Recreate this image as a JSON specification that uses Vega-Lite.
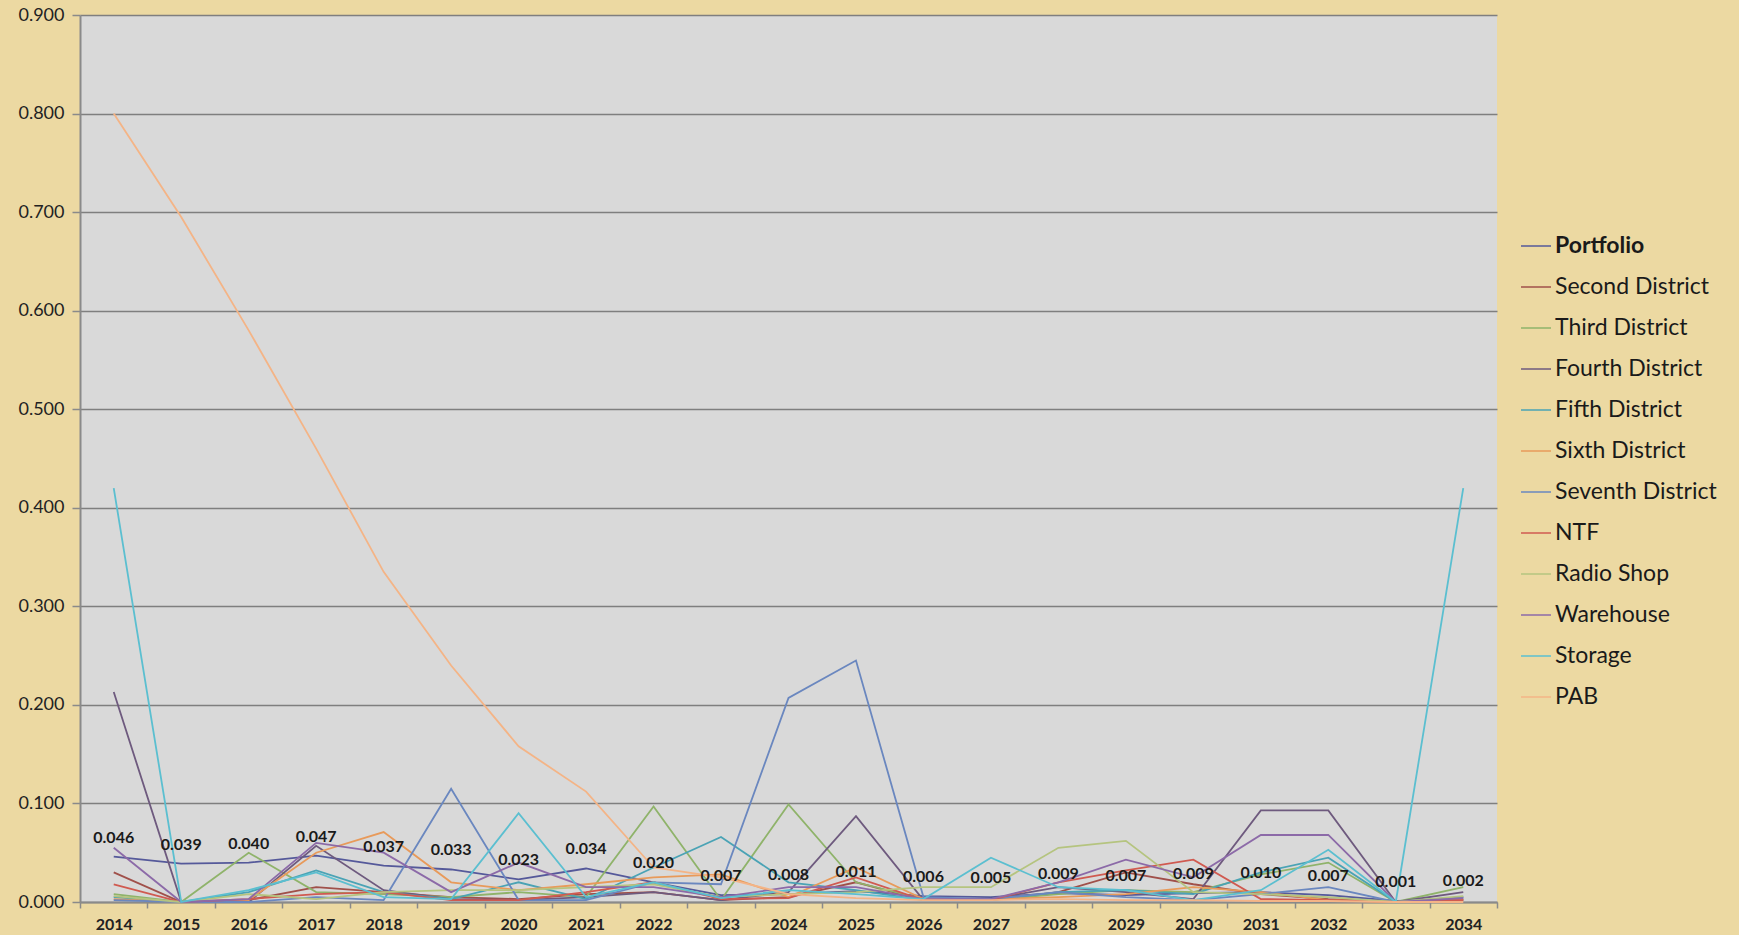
{
  "$schema": "https://vega.github.io/schema/vega-lite/v6.json",
  "width": 1417,
  "height": 887,
  "autosize": {"type": "none"},
  "padding": {"left": 80, "top": 15, "right": 242, "bottom": 33},
  "background": "#ecd9a2",
  "config": {"view": {"fill": "#d9d9d9", "stroke": null}, "font": "Lato"},
  "data": {"values": [
    {"year":2014,"series":"Portfolio","value":0.046},{"year":2015,"series":"Portfolio","value":0.039},{"year":2016,"series":"Portfolio","value":0.040},{"year":2017,"series":"Portfolio","value":0.047},{"year":2018,"series":"Portfolio","value":0.037},{"year":2019,"series":"Portfolio","value":0.033},{"year":2020,"series":"Portfolio","value":0.023},{"year":2021,"series":"Portfolio","value":0.034},{"year":2022,"series":"Portfolio","value":0.020},{"year":2023,"series":"Portfolio","value":0.007},{"year":2024,"series":"Portfolio","value":0.008},{"year":2025,"series":"Portfolio","value":0.011},{"year":2026,"series":"Portfolio","value":0.006},{"year":2027,"series":"Portfolio","value":0.005},{"year":2028,"series":"Portfolio","value":0.009},{"year":2029,"series":"Portfolio","value":0.007},{"year":2030,"series":"Portfolio","value":0.009},{"year":2031,"series":"Portfolio","value":0.010},{"year":2032,"series":"Portfolio","value":0.007},{"year":2033,"series":"Portfolio","value":0.001},{"year":2034,"series":"Portfolio","value":0.002},
    {"year":2014,"series":"Second District","value":0.030},{"year":2015,"series":"Second District","value":0.000},{"year":2016,"series":"Second District","value":0.002},{"year":2017,"series":"Second District","value":0.015},{"year":2018,"series":"Second District","value":0.010},{"year":2019,"series":"Second District","value":0.005},{"year":2020,"series":"Second District","value":0.003},{"year":2021,"series":"Second District","value":0.008},{"year":2022,"series":"Second District","value":0.010},{"year":2023,"series":"Second District","value":0.002},{"year":2024,"series":"Second District","value":0.005},{"year":2025,"series":"Second District","value":0.020},{"year":2026,"series":"Second District","value":0.002},{"year":2027,"series":"Second District","value":0.002},{"year":2028,"series":"Second District","value":0.010},{"year":2029,"series":"Second District","value":0.030},{"year":2030,"series":"Second District","value":0.018},{"year":2031,"series":"Second District","value":0.008},{"year":2032,"series":"Second District","value":0.003},{"year":2033,"series":"Second District","value":0.000},{"year":2034,"series":"Second District","value":0.003},
    {"year":2014,"series":"Third District","value":0.008},{"year":2015,"series":"Third District","value":0.000},{"year":2016,"series":"Third District","value":0.050},{"year":2017,"series":"Third District","value":0.010},{"year":2018,"series":"Third District","value":0.008},{"year":2019,"series":"Third District","value":0.005},{"year":2020,"series":"Third District","value":0.010},{"year":2021,"series":"Third District","value":0.005},{"year":2022,"series":"Third District","value":0.097},{"year":2023,"series":"Third District","value":0.002},{"year":2024,"series":"Third District","value":0.099},{"year":2025,"series":"Third District","value":0.020},{"year":2026,"series":"Third District","value":0.003},{"year":2027,"series":"Third District","value":0.002},{"year":2028,"series":"Third District","value":0.008},{"year":2029,"series":"Third District","value":0.012},{"year":2030,"series":"Third District","value":0.010},{"year":2031,"series":"Third District","value":0.028},{"year":2032,"series":"Third District","value":0.040},{"year":2033,"series":"Third District","value":0.000},{"year":2034,"series":"Third District","value":0.015},
    {"year":2014,"series":"Fourth District","value":0.213},{"year":2015,"series":"Fourth District","value":0.000},{"year":2016,"series":"Fourth District","value":0.000},{"year":2017,"series":"Fourth District","value":0.057},{"year":2018,"series":"Fourth District","value":0.012},{"year":2019,"series":"Fourth District","value":0.003},{"year":2020,"series":"Fourth District","value":0.002},{"year":2021,"series":"Fourth District","value":0.005},{"year":2022,"series":"Fourth District","value":0.010},{"year":2023,"series":"Fourth District","value":0.002},{"year":2024,"series":"Fourth District","value":0.010},{"year":2025,"series":"Fourth District","value":0.087},{"year":2026,"series":"Fourth District","value":0.002},{"year":2027,"series":"Fourth District","value":0.003},{"year":2028,"series":"Fourth District","value":0.015},{"year":2029,"series":"Fourth District","value":0.010},{"year":2030,"series":"Fourth District","value":0.003},{"year":2031,"series":"Fourth District","value":0.093},{"year":2032,"series":"Fourth District","value":0.093},{"year":2033,"series":"Fourth District","value":0.000},{"year":2034,"series":"Fourth District","value":0.010},
    {"year":2014,"series":"Fifth District","value":0.005},{"year":2015,"series":"Fifth District","value":0.000},{"year":2016,"series":"Fifth District","value":0.010},{"year":2017,"series":"Fifth District","value":0.032},{"year":2018,"series":"Fifth District","value":0.010},{"year":2019,"series":"Fifth District","value":0.003},{"year":2020,"series":"Fifth District","value":0.020},{"year":2021,"series":"Fifth District","value":0.003},{"year":2022,"series":"Fifth District","value":0.035},{"year":2023,"series":"Fifth District","value":0.066},{"year":2024,"series":"Fifth District","value":0.020},{"year":2025,"series":"Fifth District","value":0.012},{"year":2026,"series":"Fifth District","value":0.002},{"year":2027,"series":"Fifth District","value":0.002},{"year":2028,"series":"Fifth District","value":0.010},{"year":2029,"series":"Fifth District","value":0.012},{"year":2030,"series":"Fifth District","value":0.008},{"year":2031,"series":"Fifth District","value":0.030},{"year":2032,"series":"Fifth District","value":0.045},{"year":2033,"series":"Fifth District","value":0.000},{"year":2034,"series":"Fifth District","value":0.005},
    {"year":2014,"series":"Sixth District","value":0.003},{"year":2015,"series":"Sixth District","value":0.000},{"year":2016,"series":"Sixth District","value":0.002},{"year":2017,"series":"Sixth District","value":0.050},{"year":2018,"series":"Sixth District","value":0.071},{"year":2019,"series":"Sixth District","value":0.020},{"year":2020,"series":"Sixth District","value":0.012},{"year":2021,"series":"Sixth District","value":0.018},{"year":2022,"series":"Sixth District","value":0.025},{"year":2023,"series":"Sixth District","value":0.028},{"year":2024,"series":"Sixth District","value":0.005},{"year":2025,"series":"Sixth District","value":0.035},{"year":2026,"series":"Sixth District","value":0.003},{"year":2027,"series":"Sixth District","value":0.003},{"year":2028,"series":"Sixth District","value":0.005},{"year":2029,"series":"Sixth District","value":0.008},{"year":2030,"series":"Sixth District","value":0.015},{"year":2031,"series":"Sixth District","value":0.010},{"year":2032,"series":"Sixth District","value":0.002},{"year":2033,"series":"Sixth District","value":0.000},{"year":2034,"series":"Sixth District","value":0.002},
    {"year":2014,"series":"Seventh District","value":0.002},{"year":2015,"series":"Seventh District","value":0.000},{"year":2016,"series":"Seventh District","value":0.000},{"year":2017,"series":"Seventh District","value":0.005},{"year":2018,"series":"Seventh District","value":0.002},{"year":2019,"series":"Seventh District","value":0.115},{"year":2020,"series":"Seventh District","value":0.002},{"year":2021,"series":"Seventh District","value":0.002},{"year":2022,"series":"Seventh District","value":0.020},{"year":2023,"series":"Seventh District","value":0.018},{"year":2024,"series":"Seventh District","value":0.207},{"year":2025,"series":"Seventh District","value":0.245},{"year":2026,"series":"Seventh District","value":0.005},{"year":2027,"series":"Seventh District","value":0.003},{"year":2028,"series":"Seventh District","value":0.010},{"year":2029,"series":"Seventh District","value":0.005},{"year":2030,"series":"Seventh District","value":0.002},{"year":2031,"series":"Seventh District","value":0.008},{"year":2032,"series":"Seventh District","value":0.015},{"year":2033,"series":"Seventh District","value":0.000},{"year":2034,"series":"Seventh District","value":0.005},
    {"year":2014,"series":"NTF","value":0.018},{"year":2015,"series":"NTF","value":0.000},{"year":2016,"series":"NTF","value":0.003},{"year":2017,"series":"NTF","value":0.008},{"year":2018,"series":"NTF","value":0.010},{"year":2019,"series":"NTF","value":0.002},{"year":2020,"series":"NTF","value":0.002},{"year":2021,"series":"NTF","value":0.010},{"year":2022,"series":"NTF","value":0.020},{"year":2023,"series":"NTF","value":0.003},{"year":2024,"series":"NTF","value":0.004},{"year":2025,"series":"NTF","value":0.025},{"year":2026,"series":"NTF","value":0.002},{"year":2027,"series":"NTF","value":0.002},{"year":2028,"series":"NTF","value":0.020},{"year":2029,"series":"NTF","value":0.032},{"year":2030,"series":"NTF","value":0.043},{"year":2031,"series":"NTF","value":0.003},{"year":2032,"series":"NTF","value":0.002},{"year":2033,"series":"NTF","value":0.000},{"year":2034,"series":"NTF","value":0.002},
    {"year":2014,"series":"Radio Shop","value":0.006},{"year":2015,"series":"Radio Shop","value":0.000},{"year":2016,"series":"Radio Shop","value":0.008},{"year":2017,"series":"Radio Shop","value":0.003},{"year":2018,"series":"Radio Shop","value":0.010},{"year":2019,"series":"Radio Shop","value":0.012},{"year":2020,"series":"Radio Shop","value":0.012},{"year":2021,"series":"Radio Shop","value":0.015},{"year":2022,"series":"Radio Shop","value":0.018},{"year":2023,"series":"Radio Shop","value":0.005},{"year":2024,"series":"Radio Shop","value":0.008},{"year":2025,"series":"Radio Shop","value":0.010},{"year":2026,"series":"Radio Shop","value":0.015},{"year":2027,"series":"Radio Shop","value":0.015},{"year":2028,"series":"Radio Shop","value":0.055},{"year":2029,"series":"Radio Shop","value":0.062},{"year":2030,"series":"Radio Shop","value":0.010},{"year":2031,"series":"Radio Shop","value":0.008},{"year":2032,"series":"Radio Shop","value":0.005},{"year":2033,"series":"Radio Shop","value":0.000},{"year":2034,"series":"Radio Shop","value":0.006},
    {"year":2014,"series":"Warehouse","value":0.055},{"year":2015,"series":"Warehouse","value":0.000},{"year":2016,"series":"Warehouse","value":0.003},{"year":2017,"series":"Warehouse","value":0.060},{"year":2018,"series":"Warehouse","value":0.050},{"year":2019,"series":"Warehouse","value":0.010},{"year":2020,"series":"Warehouse","value":0.040},{"year":2021,"series":"Warehouse","value":0.015},{"year":2022,"series":"Warehouse","value":0.015},{"year":2023,"series":"Warehouse","value":0.005},{"year":2024,"series":"Warehouse","value":0.015},{"year":2025,"series":"Warehouse","value":0.015},{"year":2026,"series":"Warehouse","value":0.003},{"year":2027,"series":"Warehouse","value":0.003},{"year":2028,"series":"Warehouse","value":0.020},{"year":2029,"series":"Warehouse","value":0.043},{"year":2030,"series":"Warehouse","value":0.025},{"year":2031,"series":"Warehouse","value":0.068},{"year":2032,"series":"Warehouse","value":0.068},{"year":2033,"series":"Warehouse","value":0.000},{"year":2034,"series":"Warehouse","value":0.004},
    {"year":2014,"series":"Storage","value":0.420},{"year":2015,"series":"Storage","value":0.000},{"year":2016,"series":"Storage","value":0.012},{"year":2017,"series":"Storage","value":0.030},{"year":2018,"series":"Storage","value":0.005},{"year":2019,"series":"Storage","value":0.003},{"year":2020,"series":"Storage","value":0.090},{"year":2021,"series":"Storage","value":0.005},{"year":2022,"series":"Storage","value":0.020},{"year":2023,"series":"Storage","value":0.004},{"year":2024,"series":"Storage","value":0.012},{"year":2025,"series":"Storage","value":0.008},{"year":2026,"series":"Storage","value":0.003},{"year":2027,"series":"Storage","value":0.045},{"year":2028,"series":"Storage","value":0.015},{"year":2029,"series":"Storage","value":0.012},{"year":2030,"series":"Storage","value":0.002},{"year":2031,"series":"Storage","value":0.012},{"year":2032,"series":"Storage","value":0.053},{"year":2033,"series":"Storage","value":0.000},{"year":2034,"series":"Storage","value":0.420},
    {"year":2014,"series":"PAB","value":0.800},{"year":2015,"series":"PAB","value":0.695},{"year":2016,"series":"PAB","value":0.580},{"year":2017,"series":"PAB","value":0.460},{"year":2018,"series":"PAB","value":0.335},{"year":2019,"series":"PAB","value":0.240},{"year":2020,"series":"PAB","value":0.158},{"year":2021,"series":"PAB","value":0.112},{"year":2022,"series":"PAB","value":0.035},{"year":2023,"series":"PAB","value":0.025},{"year":2024,"series":"PAB","value":0.008},{"year":2025,"series":"PAB","value":0.004},{"year":2026,"series":"PAB","value":0.002},{"year":2027,"series":"PAB","value":0.002},{"year":2028,"series":"PAB","value":0.003},{"year":2029,"series":"PAB","value":0.002},{"year":2030,"series":"PAB","value":0.002},{"year":2031,"series":"PAB","value":0.001},{"year":2032,"series":"PAB","value":0.001},{"year":2033,"series":"PAB","value":0.000},{"year":2034,"series":"PAB","value":0.000}
  ]},
  "encoding": {
    "x": {
      "field": "year", "type": "ordinal", "bandPosition": 0.5,
      "scale": {"type": "band", "paddingInner": 0, "paddingOuter": 0},
      "axis": {"title": null, "labelAngle": 0, "labelFontSize": 16, "labelFontWeight": "bold", "labelColor": "#222222", "tickBand": "extent", "tickSize": 6, "tickColor": "#8a8a8a", "tickWidth": 1.5, "domainColor": "#8a8a8a", "domainWidth": 2, "labelPadding": 8, "grid": false}
    },
    "y": {
      "field": "value", "type": "quantitative",
      "scale": {"domain": [0, 0.9], "nice": false, "zero": true},
      "axis": {"title": null, "values": [0, 0.1, 0.2, 0.3, 0.4, 0.5, 0.6, 0.7, 0.8, 0.9], "format": ".3f", "labelFontSize": 18, "labelColor": "#222222", "grid": true, "gridColor": "#7f7f7f", "gridWidth": 1.5, "domainColor": "#8a8a8a", "domainWidth": 2, "tickColor": "#8a8a8a", "tickSize": 8, "tickWidth": 1.5, "labelPadding": 8}
    }
  },
  "layer": [
    {
      "mark": {"type": "line", "strokeWidth": 1.8},
      "encoding": {
        "color": {
          "field": "series", "type": "nominal",
          "scale": {
            "domain": ["Portfolio", "Second District", "Third District", "Fourth District", "Fifth District", "Sixth District", "Seventh District", "NTF", "Radio Shop", "Warehouse", "Storage", "PAB"],
            "range": ["#55599a", "#a0504a", "#8fb36a", "#6e5a7e", "#4aa3b5", "#e89a5a", "#6a87bf", "#d05a50", "#b5c47f", "#8c6aa8", "#5bbfd0", "#f4b486"]
          },
          "legend": {
            "orient": "none", "legendX": 1440, "legendY": 215, "title": null,
            "symbolType": "stroke", "symbolSize": 900, "symbolStrokeWidth": 1.5,
            "labelFontSize": 23, "labelColor": "#1a1a1a", "labelFont": "Lato",
            "rowPadding": 13, "labelOffset": 3, "padding": 0, "labelLimit": 300,
            "encode": {"labels": {"update": {"fontWeight": {"signal": "datum.value === 'Portfolio' ? 'bold' : 'normal'"}}}}
          }
        },
        "order": {"field": "year", "type": "ordinal"}
      }
    },
    {
      "transform": [{"filter": "datum.series === 'Portfolio'"}],
      "mark": {"type": "text", "fontSize": 16, "fontWeight": "bold", "dy": -19, "color": "#1a1a1a", "font": "Lato"},
      "encoding": {"text": {"field": "value", "type": "quantitative", "format": ".3f"}}
    }
  ]
}
